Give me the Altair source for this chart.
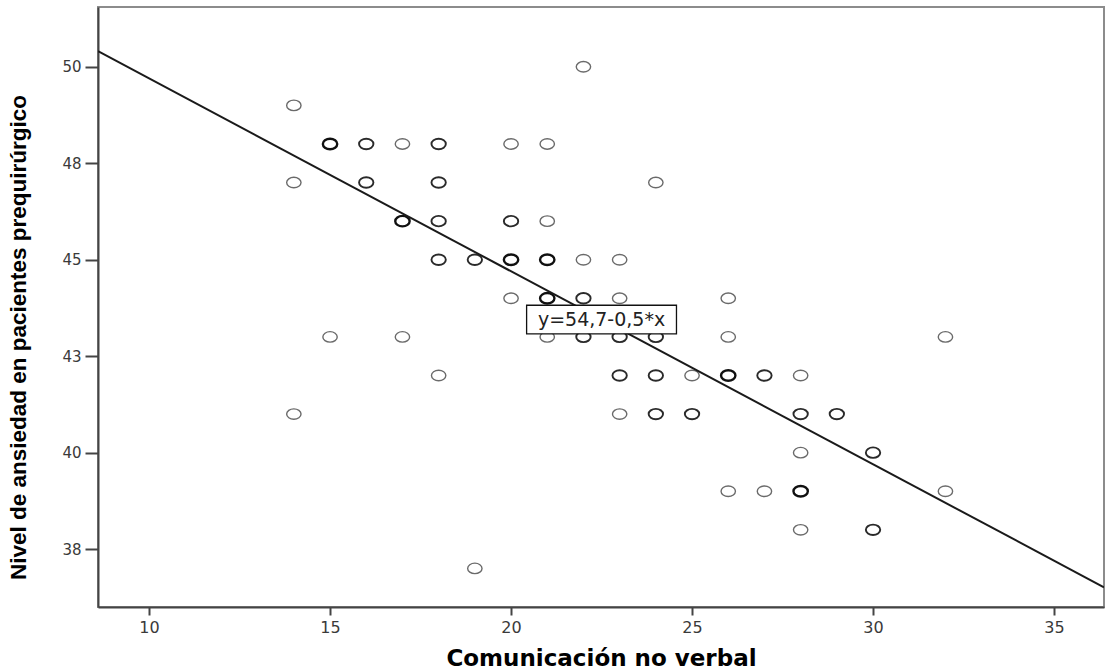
import altair as alt
import pandas as pd

# ---- data ----
comm_x = [14, 14, 14, 15, 15, 16, 16, 17, 17, 17, 18, 18, 18, 18, 18, 19, 19,
          20, 20, 20, 20, 21, 21, 21, 21, 21, 22, 22, 22, 22, 23, 23, 23, 23, 23,
          24, 24, 24, 24, 25, 25, 26, 26, 26, 26, 27, 27, 28, 28, 28, 28, 28, 29,
          30, 30, 32, 32]
anx_y = [49, 47, 41, 48, 43, 48, 47, 48, 46, 43, 48, 47, 46, 45, 42, 45, 37,
         48, 46, 45, 44, 48, 46, 45, 44, 43, 50, 45, 44, 43, 45, 44, 43, 42, 41,
         47, 43, 42, 41, 42, 41, 44, 43, 42, 39, 42, 39, 42, 41, 40, 39, 38, 41,
         40, 38, 43, 39]
n_cases = [1, 1, 1, 3, 1, 2, 2, 1, 3, 1, 2, 2, 2, 2, 1, 2, 1,
           1, 2, 3, 1, 1, 1, 3, 3, 1, 1, 1, 2, 2, 1, 1, 2, 2, 1,
           1, 2, 2, 2, 1, 2, 1, 1, 3, 1, 2, 1, 1, 2, 1, 3, 1, 2,
           2, 2, 1, 1]

x_ticks = [10, 15, 20, 25, 30, 35]
y_ticks = [37.5, 40, 42.5, 45, 47.5, 50]

fit_intercept = 54.7
fit_slope = -0.5
eq_at_x = 22.5

x_dom = [8.59, 36.38]
y_dom = [36.0, 51.55]

# ---- tables ----
df = pd.DataFrame({"x": comm_x, "y": anx_y, "n": n_cases})
df_line = pd.DataFrame({
    "x": x_dom,
    "y": [fit_intercept + fit_slope * v for v in x_dom],
})
eq_text = f"y={fit_intercept:.1f}-{abs(fit_slope):.1f}*x".replace(".", ",")
eq_y = fit_intercept + fit_slope * eq_at_x
half_w, half_h = 2.07, 0.37
df_eq = pd.DataFrame({
    "xc": [eq_at_x], "yc": [eq_y],
    "x1": [eq_at_x - half_w], "x2": [eq_at_x + half_w],
    "y1": [eq_y - half_h], "y2": [eq_y + half_h],
    "label": [eq_text],
})

xs = alt.Scale(domain=x_dom, nice=False, zero=False)
ys = alt.Scale(domain=y_dom, nice=False, zero=False)

ELLIPSE = "M -1.37 0 A 1.37 1 0 1 0 1.37 0 A 1.37 1 0 1 0 -1.37 0 Z"

x_axis = alt.Axis(
    values=x_ticks, title="Comunicación no verbal", grid=False,
    titleFont="DejaVu Sans", titleFontSize=23, titleFontWeight="bold",
    titleColor="black", titleBaseline="alphabetic", titleY=58,
    labelFont="DejaVu Sans", labelFontSize=16, labelColor="#3a3a3a",
    labelPadding=4, tickSize=8, tickColor="#444", tickWidth=2,
    domainColor="#444", domainWidth=2, labelFlush=False,
)
y_axis = alt.Axis(
    values=y_ticks, format=".0f",
    title="Nivel de ansiedad en pacientes prequirúrgico", grid=False,
    titleFont="Liberation Sans", titleFontSize=22.5, titleFontWeight="bold",
    titleColor="black", titleBaseline="middle", titleAlign="center",
    titleX=-80, titleY=330, titleAngle=270,
    labelFont="DejaVu Sans", labelFontSize=15, labelColor="#3a3a3a",
    labelPadding=4, tickSize=13, tickColor="#444", tickWidth=2,
    domainColor="#444", domainWidth=2, labelFlush=False,
)

points = alt.Chart(df).mark_point(shape=ELLIPSE, filled=False, size=110, opacity=1).encode(
    x=alt.X("x:Q", scale=xs, axis=x_axis),
    y=alt.Y("y:Q", scale=ys, axis=y_axis),
    stroke=alt.Stroke("n:O", scale=alt.Scale(domain=[1, 2, 3],
                      range=["#6a6a6a", "#2a2a2a", "#101010"]), legend=None),
    strokeWidth=alt.StrokeWidth("n:Q", scale=alt.Scale(domain=[1, 3], range=[1.4, 2.4]),
                                legend=None),
)

line = alt.Chart(df_line).mark_line(color="#1a1a1a", strokeWidth=2, clip=True).encode(
    x=alt.X("x:Q", scale=xs),
    y=alt.Y("y:Q", scale=ys),
)

box = alt.Chart(df_eq).mark_rect(fill="white", stroke="#111", strokeWidth=1.3).encode(
    x=alt.X("x1:Q", scale=xs), x2="x2:Q",
    y=alt.Y("y1:Q", scale=ys), y2="y2:Q",
)

label = alt.Chart(df_eq).mark_text(
    font="DejaVu Sans", fontSize=19, color="#222", align="center", baseline="middle"
).encode(
    x=alt.X("xc:Q", scale=xs),
    y=alt.Y("yc:Q", scale=ys),
    text="label:N",
)

chart = alt.layer(points, line, box, label).properties(
    width=1006, height=600,
    padding={"left": 98, "top": 7, "right": 1, "bottom": 63},
    autosize=alt.AutoSizeParams(type="none"),
    background="white",
).configure_view(stroke="#8c8c8c", strokeWidth=2)

chart.save("out.html", embed_options={"renderer": "svg", "actions": False})
